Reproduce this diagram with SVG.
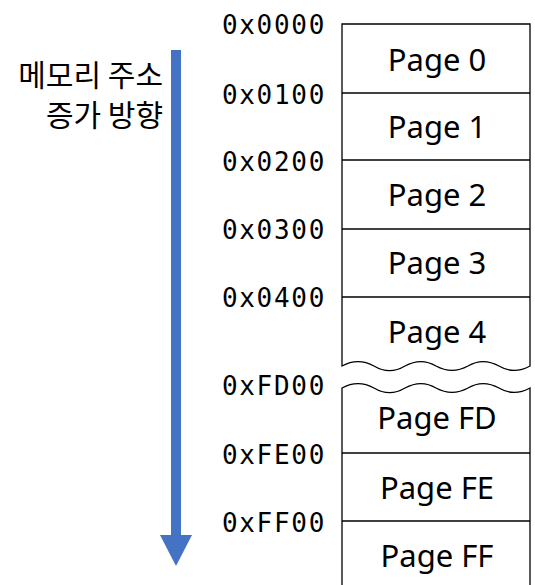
<svg xmlns="http://www.w3.org/2000/svg" width="535" height="585" viewBox="0 0 535 585">
<style>
.addr{font-family:"DejaVu Sans Mono",monospace;font-size:26px;letter-spacing:1.7px;fill:#000;text-anchor:end}
.pg{font-family:"Noto Sans","Open Sans",sans-serif;font-size:31px;fill:#000;text-anchor:middle}
.kr{font-family:"Noto Sans CJK KR",sans-serif;font-size:30px;fill:#000;text-anchor:end}
.box{fill:#fff;stroke:#000;stroke-width:1.3}
</style>
<rect width="535" height="585" fill="#fff"/>
<g id="direction-label">
<text class="kr" x="163" y="86">메모리 주소</text>
<text class="kr" x="163" y="126">증가 방향</text>
</g>
<g id="connectors">
<rect x="171" y="50" width="10" height="486" fill="#4472C4"/>
<polygon points="160,535 192,535 176,566" fill="#4472C4"/>
</g>
<g id="addresses">
<text class="addr" x="326" y="34">0x0000</text>
<text class="addr" x="326" y="104">0x0100</text>
<text class="addr" x="326" y="171">0x0200</text>
<text class="addr" x="326" y="239">0x0300</text>
<text class="addr" x="326" y="307">0x0400</text>
<text class="addr" x="326" y="395">0xFD00</text>
<text class="addr" x="326" y="464">0xFE00</text>
<text class="addr" x="326" y="532">0xFF00</text>
</g>
<g id="upper-block">
<path class="box" d="M342,24 H530 V366 C519,372 509,372 499,366 C488,360 478,360 468,366 C457,372 447,372 436,366 C426,360 416,360 405,366 C395,372 384,372 374,366 C363,360 353,360 342,366 Z"/>
<line x1="342" y1="93" x2="530" y2="93" stroke="#000" stroke-width="1.3"/>
<line x1="342" y1="160" x2="530" y2="160" stroke="#000" stroke-width="1.3"/>
<line x1="342" y1="229" x2="530" y2="229" stroke="#000" stroke-width="1.3"/>
<line x1="342" y1="297" x2="530" y2="297" stroke="#000" stroke-width="1.3"/>
</g>
<g id="page0"><text class="pg" x="437" y="71">Page 0</text></g>
<g id="page1"><text class="pg" x="437" y="138">Page 1</text></g>
<g id="page2"><text class="pg" x="437" y="206">Page 2</text></g>
<g id="page3"><text class="pg" x="437" y="274">Page 3</text></g>
<g id="page4"><text class="pg" x="437" y="343">Page 4</text></g>
<g id="lower-block">
<path class="box" d="M342,388 C353,382 363,382 374,388 C384,394 395,394 405,388 C416,382 426,382 436,388 C447,394 457,394 468,388 C478,382 488,382 499,388 C509,394 519,394 530,388 V590 H342 Z"/>
<line x1="342" y1="453" x2="530" y2="453" stroke="#000" stroke-width="1.3"/>
<line x1="342" y1="521" x2="530" y2="521" stroke="#000" stroke-width="1.3"/>
</g>
<g id="pageFD"><text class="pg" x="437" y="429">Page FD</text></g>
<g id="pageFE"><text class="pg" x="437" y="499">Page FE</text></g>
<g id="pageFF"><text class="pg" x="437" y="567">Page FF</text></g>
</svg>
